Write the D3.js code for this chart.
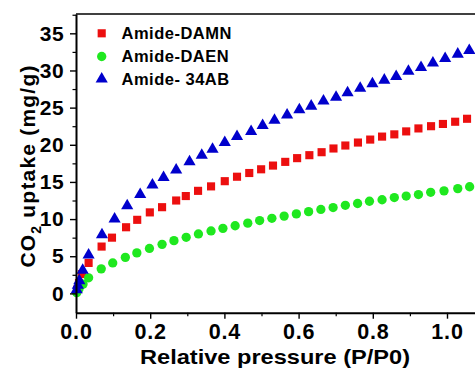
<!DOCTYPE html>
<html>
<head>
<meta charset="utf-8">
<script src="https://cdn.jsdelivr.net/npm/d3@7"></script>
<style>
  body { margin: 0; background: #fff; }
  svg text { font-family: "Liberation Sans", Arial, sans-serif; font-weight: bold; fill: #000; }
</style>
</head>
<body>
<svg id="chart" width="475" height="372"></svg>
<script>
// relative pressure (P/P0) and CO2 uptake (mg/g)
var DAMN_X = [0.003, 0.008, 0.016, 0.034, 0.069, 0.097, 0.135, 0.165, 0.199, 0.232, 0.270, 0.296, 0.329, 0.364, 0.401, 0.434, 0.467, 0.499, 0.531, 0.564, 0.596, 0.629, 0.662, 0.694, 0.726, 0.760, 0.793, 0.825, 0.858, 0.890, 0.923, 0.957, 0.989, 1.022, 1.054];
var DAMN_Y = [0.5, 1.4, 2.6, 4.1, 6.3, 7.5, 8.9, 9.9, 10.9, 11.6, 12.5, 13.1, 13.8, 14.4, 15.1, 15.7, 16.2, 16.7, 17.2, 17.7, 18.2, 18.6, 19.0, 19.5, 19.9, 20.3, 20.7, 21.1, 21.4, 21.8, 22.2, 22.5, 22.8, 23.1, 23.5];

var DAEN_X = [0.002, 0.008, 0.019, 0.034, 0.068, 0.099, 0.133, 0.164, 0.198, 0.232, 0.264, 0.297, 0.330, 0.364, 0.396, 0.429, 0.463, 0.495, 0.528, 0.561, 0.594, 0.627, 0.660, 0.693, 0.726, 0.759, 0.791, 0.825, 0.858, 0.890, 0.923, 0.956, 0.992, 1.029, 1.061];
var DAEN_Y = [0.1, 0.6, 1.25, 2.1, 3.3, 4.1, 4.85, 5.45, 6.05, 6.6, 7.1, 7.55, 8.0, 8.4, 8.75, 9.1, 9.45, 9.8, 10.1, 10.4, 10.7, 11.0, 11.3, 11.55, 11.85, 12.1, 12.4, 12.6, 12.9, 13.1, 13.3, 13.6, 13.8, 14.1, 14.35];

var AB34_X = [0.002, 0.005, 0.009, 0.018, 0.034, 0.070, 0.104, 0.138, 0.173, 0.206, 0.236, 0.270, 0.306, 0.339, 0.368, 0.401, 0.434, 0.472, 0.503, 0.535, 0.569, 0.602, 0.634, 0.667, 0.701, 0.732, 0.766, 0.799, 0.831, 0.863, 0.896, 0.930, 0.962, 0.995, 1.029, 1.060];
var AB34_Y = [0.5, 1.1, 1.7, 3.1, 5.15, 7.9, 10.0, 11.8, 13.3, 14.6, 15.6, 16.6, 17.7, 18.6, 19.4, 20.3, 21.1, 21.8, 22.6, 23.3, 24.0, 24.7, 25.2, 25.9, 26.4, 27.0, 27.6, 28.2, 28.7, 29.2, 29.9, 30.4, 31.0, 31.6, 32.2, 32.7];

var SERIES_NAMES = ["Amide-DAMN", "Amide-DAEN", "Amide- 34AB"];
var SERIES_COLORS = ["#ec0f0f", "#1fe81f", "#0000cc"];
var X_TICKS = [0, 0.2, 0.4, 0.6, 0.8, 1.0];
var Y_TICKS = [0, 5, 10, 15, 20, 25, 30, 35];

function drawChart(){
    const svg = d3.select("#chart");
    const margin = { top: 14, left: 76, bottom: 312.7 };

    const x = d3.scaleLinear().domain([0, 1.08]).range([margin.left, margin.left + 1.08 * 371]);
    const y = d3.scaleLinear().domain([-2.6, 37.6]).range([margin.bottom, margin.top]);

    const series = [
        { name: SERIES_NAMES[0], color: SERIES_COLORS[0], shape: "square", pts: DAMN_X.map((v, i) => [v, DAMN_Y[i]]) },
        { name: SERIES_NAMES[1], color: SERIES_COLORS[1], shape: "circle", pts: DAEN_X.map((v, i) => [v, DAEN_Y[i]]) },
        { name: SERIES_NAMES[2], color: SERIES_COLORS[2], shape: "triangle", pts: AB34_X.map((v, i) => [v, AB34_Y[i]]) }
    ];

    const shapeOf = {
        square: d3.symbol().type(d3.symbolSquare).size(66),
        circle: d3.symbol().type(d3.symbolCircle).size(68),
        triangle: d3.symbol().type(d3.symbolTriangle).size(64)
    };

    // markers
    series.forEach((s) => {
        svg.append("g")
            .attr("fill", s.color)
            .selectAll("path")
            .data(s.pts)
            .join("path")
            .attr("transform", (d) => `translate(${x(d[0])},${y(d[1])})`)
            .attr("d", shapeOf[s.shape]);
    });

    // frame top line
    svg.append("line")
        .attr("x1", x(0)).attr("x2", 475)
        .attr("y1", y(37.6)).attr("y2", y(37.6))
        .attr("stroke", "#000").attr("stroke-width", 1.6);

    // x axis
    const xAxis = svg.append("g")
        .attr("transform", `translate(0,${margin.bottom})`)
        .call(d3.axisBottom(x).tickValues(X_TICKS).tickFormat(d3.format(".1f")).tickSize(6).tickPadding(5).tickSizeOuter(0));
    xAxis.select(".domain").attr("stroke-width", 2);
    xAxis.selectAll(".tick line").attr("stroke-width", 1.4);
    xAxis.selectAll("text").attr("font-size", 21.5).attr("font-family", null).attr("letter-spacing", 0.8);
    svg.append("g")
        .attr("transform", `translate(0,${margin.bottom})`)
        .call(d3.axisBottom(x).tickValues([0.1, 0.3, 0.5, 0.7, 0.9]).tickSize(3.5).tickFormat("").tickSizeOuter(0))
        .call((g) => g.select(".domain").remove())
        .selectAll(".tick line").attr("stroke-width", 1.2);

    // y axis
    const yAxis = svg.append("g")
        .attr("transform", `translate(${margin.left},0)`)
        .call(d3.axisLeft(y).tickValues(Y_TICKS).tickSize(6).tickPadding(6).tickSizeOuter(0));
    yAxis.select(".domain").attr("stroke-width", 2);
    yAxis.selectAll(".tick line").attr("stroke-width", 1.4);
    yAxis.selectAll("text").attr("font-size", 21).attr("font-family", null).attr("letter-spacing", 0.4);
    svg.append("g")
        .attr("transform", `translate(${margin.left},0)`)
        .call(d3.axisLeft(y).tickValues([2.5, 7.5, 12.5, 17.5, 22.5, 27.5, 32.5, 37.5]).tickSize(3.5).tickFormat("").tickSizeOuter(0))
        .call((g) => g.select(".domain").remove())
        .selectAll(".tick line").attr("stroke-width", 1.2);

    // axis titles
    svg.append("text")
        .attr("x", 275)
        .attr("y", 364)
        .attr("text-anchor", "middle")
        .attr("font-size", 21)
        .attr("textLength", 270)
        .attr("lengthAdjust", "spacingAndGlyphs")
        .text("Relative pressure (P/P0)");

    const yTitle = svg.append("text")
        .attr("transform", "translate(35,166) rotate(-90)")
        .attr("text-anchor", "middle")
        .attr("font-size", 21)
        .attr("letter-spacing", 1.2);
    yTitle.append("tspan").text("CO");
    yTitle.append("tspan").attr("font-size", 14).attr("dy", 6).text("2");
    yTitle.append("tspan").attr("dy", -6).text(" uptake (mg/g)");

    // legend
    const legend = svg.append("g");
    const legendY = [33.3, 56.5, 79];
    series.forEach((s, i) => {
        legend.append("path")
            .attr("transform", `translate(101.7,${legendY[i]})`)
            .attr("fill", s.color)
            .attr("d", shapeOf[s.shape]);
        legend.append("text")
            .attr("x", 121.5)
            .attr("y", legendY[i])
            .attr("dy", "0.36em")
            .attr("font-size", 16.5)
            .attr("letter-spacing", 0.5)
            .text(s.name);
    });
}

drawChart();
</script>
</body>
</html>
